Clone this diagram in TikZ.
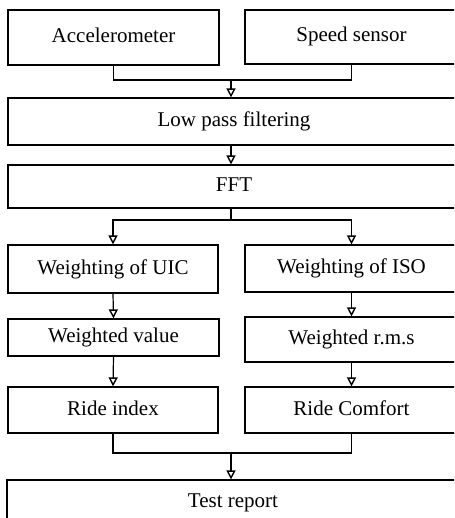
\documentclass[tikz,border=0pt]{standalone}
\usepackage{fontspec}
\setmainfont{Liberation Serif}
\usetikzlibrary{arrows.meta}
\begin{document}
\begin{tikzpicture}[x=1pt,y=-1pt,
  box/.style={draw=black, line width=1.2pt, inner sep=0pt, text height=14pt, text depth=4pt, font=\fontsize{21}{25}\selectfont},
  link/.style={draw=black, line width=1.2pt},
  arr/.style={link, -{Triangle[open, length=9pt, width=9pt, line width=1.4pt]}}]
\useasboundingbox (0,0) rectangle (454,518);
\clip (0,0) rectangle (454,518);
% boxes: centre x, centre y, width, height
\node[box, minimum width=211pt, minimum height=55pt] (acc) at (113.5,37.5) {Accelerometer};
\node[box, minimum width=213pt, minimum height=54pt] (spd) at (351.5,37) {Speed sensor};
\node[box, minimum width=452pt, minimum height=47pt] (lpf) at (234,121.5) {Low pass filtering};
\node[box, minimum width=452pt, minimum height=43pt] (fft) at (234,186.5) {FFT};
\node[box, minimum width=210pt, minimum height=48pt] (uic) at (113,269) {Weighting of UIC};
\node[box, minimum width=213pt, minimum height=47pt] (iso) at (351.5,268.5) {Weighting of ISO};
\node[box, minimum width=211pt, minimum height=37pt] (wv) at (113.5,337.5) {Weighted value};
\node[box, minimum width=213pt, minimum height=45pt] (wr) at (351.5,339.5) {Weighted r.m.s};
\node[box, minimum width=210pt, minimum height=46pt] (ri) at (113,410) {Ride index};
\node[box, minimum width=213pt, minimum height=46pt] (rc) at (351.5,410) {Ride Comfort};
\node[box, minimum width=452pt, minimum height=45pt] (tr) at (233,502.5) {Test report};
% junction coordinates
\coordinate (j1) at (231,80);
\coordinate (j2) at (231,220);
\coordinate (j3) at (231,453);
% connectors
\draw[link] (acc.south) |- (j1) -| (spd.south);
\draw[arr] (j1) -- (j1 |- lpf.north);
\draw[arr] (j1 |- lpf.south) -- (j1 |- fft.north);
\draw[link] (j2 |- fft.south) -- (j2);
\draw[arr] (j2) -| (uic.north);
\draw[arr] (j2) -| (iso.north);
\draw[arr] (uic.south) -- (wv.north);
\draw[arr] (wv.south) -- (ri.north);
\draw[arr] (iso.south) -- (wr.north);
\draw[arr] (wr.south) -- (rc.north);
\draw[link] (ri.south) |- (j3) -| (rc.south);
\draw[arr] (j3) -- (j3 |- tr.north);
\end{tikzpicture}
\end{document}
